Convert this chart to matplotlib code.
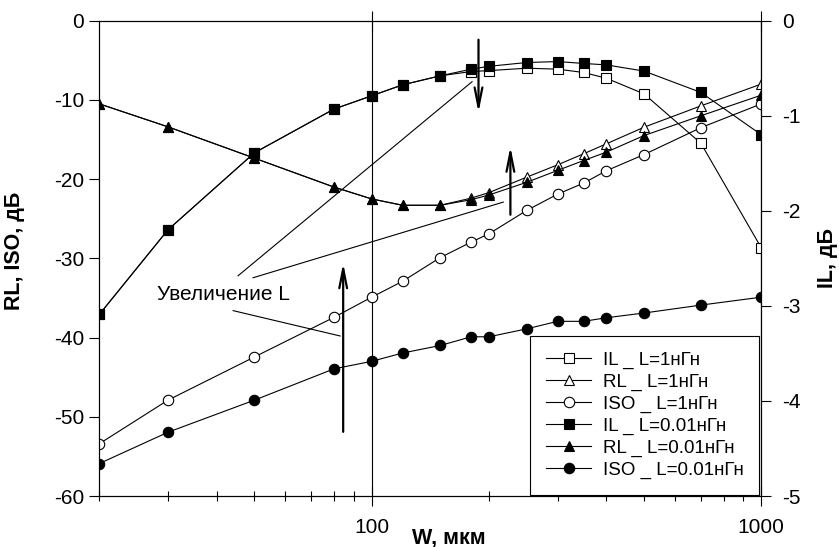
import matplotlib
matplotlib.use("Agg")
import matplotlib.pyplot as plt
from matplotlib.ticker import FixedLocator, NullFormatter, FixedFormatter

plt.rcParams['font.family'] = ['Liberation Sans', 'DejaVu Sans']
plt.rcParams['axes.unicode_minus'] = False

# ширина полоска, мкм
W = [20, 30, 50, 80, 100, 120, 150, 180, 200, 250, 300, 350, 400, 500, 700, 1000]

# L = 1 нГн
IL_1 = [-3.09, -2.20, -1.39, -0.93, -0.79, -0.675, -0.58, -0.535, -0.525,
        -0.50, -0.51, -0.545, -0.605, -0.77, -1.29, -2.39]
RL_1 = [-10.5, -13.4, -17.35, -21.0, -22.5, -23.3, -23.3, -22.4, -21.7,
        -19.75, -18.2, -16.8, -15.55, -13.45, -10.75, -8.0]
ISO_1 = [-53.4, -47.9, -42.45, -37.45, -34.9, -32.9, -29.9, -27.95, -26.9,
         -23.95, -21.9, -20.5, -18.95, -16.9, -13.5, -10.5]

# L = 0.01 нГн
IL_001 = [-3.09, -2.20, -1.39, -0.93, -0.79, -0.675, -0.58, -0.51, -0.48,
          -0.44, -0.43, -0.45, -0.465, -0.53, -0.755, -1.20]
RL_001 = [-10.5, -13.4, -17.35, -21.0, -22.5, -23.3, -23.3, -22.6, -22.0,
          -20.4, -18.9, -17.65, -16.6, -14.5, -12.0, -9.4]
ISO_001 = [-55.9, -51.95, -47.9, -43.95, -43.0, -41.95, -41.0, -39.9, -39.9,
           -38.9, -37.95, -37.95, -37.5, -36.9, -35.9, -34.9]

fig = plt.figure(figsize=(8.39, 5.47), dpi=100)
ax = fig.add_axes([0.1184, 0.0932, 0.789, 0.869])
ax2 = ax.twinx()

lw = 0.8
ms = 7.5
open_kw = dict(color='black', lw=lw, ms=ms, mfc='white', mec='black', mew=0.8)
fill_kw = dict(color='black', lw=lw, ms=ms, mfc='black', mec='black', mew=0.8)

h_rl1, = ax.plot(W, RL_1, marker='^', label='RL _ L=1нГн', **open_kw)
h_iso1, = ax.plot(W, ISO_1, marker='o', label='ISO _ L=1нГн', **open_kw)
h_rl2, = ax.plot(W, RL_001, marker='^', label='RL _ L=0.01нГн', **fill_kw)
h_iso2, = ax.plot(W, ISO_001, marker='o', label='ISO _ L=0.01нГн', **fill_kw)
h_il1, = ax2.plot(W, IL_1, marker='s', label='IL _ L=1нГн', **open_kw)
h_il2, = ax2.plot(W, IL_001, marker='s', label='IL _ L=0.01нГн', **fill_kw)

ax.set_xscale('log')
ax.set_xlim(20, 1000)
ax.set_ylim(-60, 0)
ax2.set_ylim(-5, 0)

ax.xaxis.set_major_locator(FixedLocator([100, 1000]))
ax.xaxis.set_major_formatter(FixedFormatter(['100', '1000']))
ax.xaxis.set_minor_formatter(NullFormatter())
ax.set_yticks(range(-60, 1, 10))
ax2.set_yticks(range(-5, 1, 1))

ax.grid(axis='x', which='major', color='black', lw=lw)
ax.tick_params(axis='x', which='major', direction='inout', length=14, width=lw,
               labelsize=15, pad=9, top=True)
ax.tick_params(axis='x', which='minor', direction='inout', length=7, width=lw, top=False)
ax.tick_params(axis='y', direction='out', length=7, width=lw, labelsize=15, pad=4)
ax2.tick_params(axis='y', direction='out', length=7, width=lw, labelsize=15, pad=8)
for a in (ax, ax2):
    for s in a.spines.values():
        s.set_linewidth(lw)

ax.set_xlabel('W, мкм', fontsize=15.5, fontweight='bold')
ax.xaxis.set_label_coords(0.528, -0.066)
ax.set_ylabel('RL, ISO, дБ', fontsize=15.5, fontweight='bold')
ax.yaxis.set_label_coords(-0.112, 0.515)
ax2.set_ylabel('IL, дБ', fontsize=15.5, fontweight='bold')
ax2.yaxis.set_label_coords(1.084, 0.5)

# подпись и стрелки
ax.text(28.1, -34.6, 'Увеличение L', fontsize=15, va='center', ha='left')
pointer_lines = [((45.4, -32.2), (181, -7.7)),
                 ((49.6, -32.45), (217.6, -22.9)),
                 ((44.1, -36.6), (83, -39.8))]
for (x0, y0), (x1, y1) in pointer_lines:
    ax.plot([x0, x1], [y0, y1], color='black', lw=lw)

arrows = [((188, -2.4), (188, -11.6)),
          ((227, -24.5), (227, -15.9)),
          ((84.5, -51.9), (84.5, -30.6))]
for start, end in arrows:
    ax2.annotate('', xy=(end[0], end[1] / 12), xytext=(start[0], start[1] / 12),
                 arrowprops=dict(arrowstyle='->,head_length=1.4,head_width=0.28',
                                 color='black', lw=1.6, shrinkA=0, shrinkB=0))

handles = [h_il1, h_rl1, h_iso1, h_il2, h_rl2, h_iso2]
leg = ax2.legend(handles=handles, loc='lower right', bbox_to_anchor=(0.997, 0.002),
                 borderaxespad=0, fontsize=13.5, frameon=True, fancybox=False,
                 edgecolor='black', framealpha=1, labelspacing=0.25,
                 handlelength=2.4, handletextpad=0.6, borderpad=0.85)
leg.get_frame().set_linewidth(lw)

fig.savefig('out.png', dpi=100)
